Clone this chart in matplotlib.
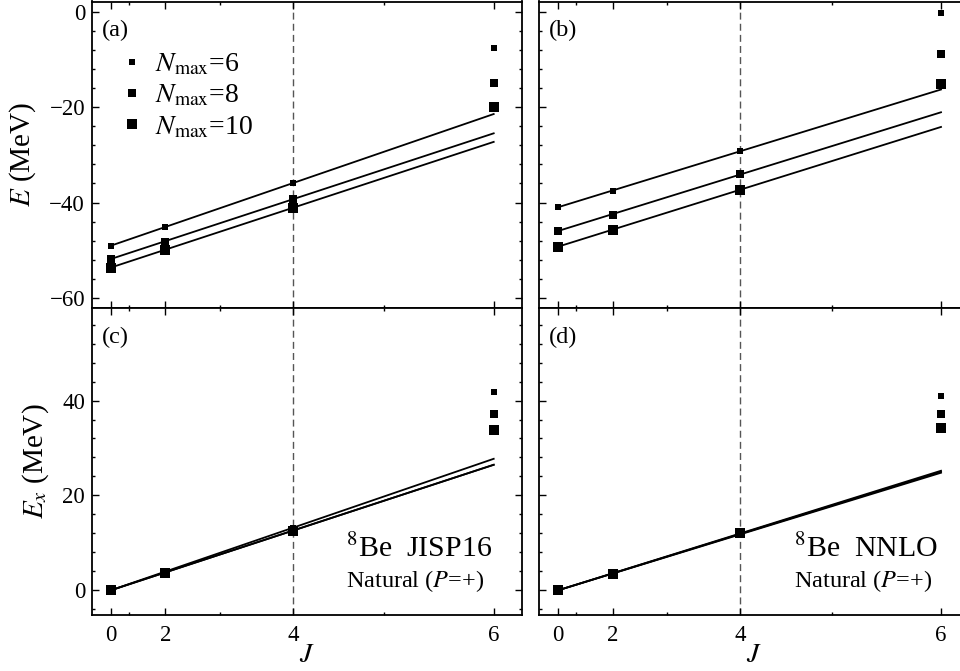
import matplotlib
matplotlib.use("Agg")
import matplotlib.pyplot as plt
import numpy as np

plt.rcParams["font.family"] = ["Liberation Serif", "DejaVu Serif"]
plt.rcParams["mathtext.fontset"] = "stix"

# angular momenta of the band members
J = np.array([0, 2, 4, 6])
j_minor = np.array([1, 3, 5])

# ground band energies (MeV) for Nmax = 6, 8, 10
nmax = [6, 8, 10]
jisp_E6 = [-49.1, -45.2, -35.9, -7.4]
jisp_E8 = [-51.9, -48.4, -39.3, -14.8]
jisp_E10 = [-53.7, -50.0, -41.1, -19.9]
nnlo_E6 = [-41.0, -37.5, -29.2, -0.1]
nnlo_E8 = [-46.0, -42.6, -34.1, -8.8]
nnlo_E10 = [-49.3, -45.8, -37.3, -15.1]

jisp = [jisp_E6, jisp_E8, jisp_E10]
nnlo = [nnlo_E6, nnlo_E8, nnlo_E10]

msizes = [4.1, 5.8, 7.7]

fig = plt.figure(figsize=(9.6, 6.71), dpi=100)
W = 429.7 / 960
ax_a = fig.add_axes([92 / 960, (671 - 308) / 671, W, 306.5 / 671])
ax_b = fig.add_axes([539.3 / 960, (671 - 308) / 671, W, 306.5 / 671])
ax_c = fig.add_axes([92 / 960, 56 / 671, W, 307 / 671])
ax_d = fig.add_axes([539.3 / 960, 56 / 671, W, 307 / 671])


def jj1(j):
    return np.asarray(j) * (np.asarray(j) + 1)


def draw(ax, series, excitation):
    x = jj1(J)
    handles = []
    for vals, ms, n in zip(series, msizes, nmax):
        y = np.array(vals, dtype=float)
        if excitation:
            y = y - y[0]
        # rotational line through the J=0 and J=4 members
        slope = (y[2] - y[0]) / (x[2] - x[0])
        xl = np.array([0, x[-1]])
        ax.plot(xl, y[0] + slope * xl, color="black", lw=1.3, zorder=2)
        h, = ax.plot(x, y, ls="none", marker="s", ms=ms, mew=0, color="black",
                     zorder=3, label=r"$N_{\rm max}$=%d" % n)
        handles.append(h)
    ax.axvline(jj1(4), color="#555555", lw=1.0, dashes=(5, 3), zorder=1)
    ax.set_xlim(-2.05, 45.07)
    ax.set_xticks(jj1(J))
    ax.set_xticks(jj1(j_minor), minor=True)
    ax.set_xticklabels([str(j) for j in J])
    ax.tick_params(which="both", direction="in", top=True, right=True,
                   labelsize=16.5, width=1.0)
    ax.tick_params(which="major", length=5)
    ax.tick_params(which="minor", length=2.5)
    ax.tick_params(axis="x", pad=7)
    ax.tick_params(axis="y", pad=5)
    for sp in ax.spines.values():
        sp.set_linewidth(1.3)
    return handles


h = draw(ax_a, jisp, False)
draw(ax_b, nnlo, False)
draw(ax_c, jisp, True)
draw(ax_d, nnlo, True)

for ax in (ax_a, ax_b):
    ax.set_ylim(-62.2, 2.3)
    ax.set_yticks([-60, -40, -20, 0])
    ax.set_yticks(np.arange(-60, 1, 4), minor=True)
    ax.tick_params(axis="x", labelbottom=False)
for ax in (ax_c, ax_d):
    ax.set_ylim(-5.2, 59.5)
    ax.set_yticks([0, 20, 40])
    ax.set_yticks(np.arange(-4, 59, 4), minor=True)
    ax.set_xlabel(r"$J$", fontsize=20, labelpad=-2)
for ax in (ax_b, ax_d):
    ax.tick_params(axis="y", labelleft=False)

ax_a.set_ylabel(r"$E$ (MeV)", fontsize=21, labelpad=8)
ax_c.set_ylabel(r"$E_x$ (MeV)", fontsize=21, labelpad=8)

for ax, lab in zip((ax_a, ax_b, ax_c, ax_d), ("(a)", "(b)", "(c)", "(d)")):
    ax.text(0.022, 0.905, lab, transform=ax.transAxes, fontsize=17.5, va="center")

ax_a.legend(handles=h, loc="upper left", bbox_to_anchor=(0.065, 0.835),
            frameon=False, fontsize=20, numpoints=1, handlelength=0.9,
            handletextpad=0.35, labelspacing=0.2, borderpad=0, borderaxespad=0)

for ax, name in ((ax_c, "JISP16"), (ax_d, "NNLO")):
    ax.text(0.592, 0.19, r"$^8$Be  " + name, transform=ax.transAxes,
            fontsize=21.5, va="baseline")
    ax.text(0.592, 0.09, r"Natural ($P$=+)", transform=ax.transAxes,
            fontsize=17.5, va="baseline")

fig.savefig("out.png", dpi=100)
